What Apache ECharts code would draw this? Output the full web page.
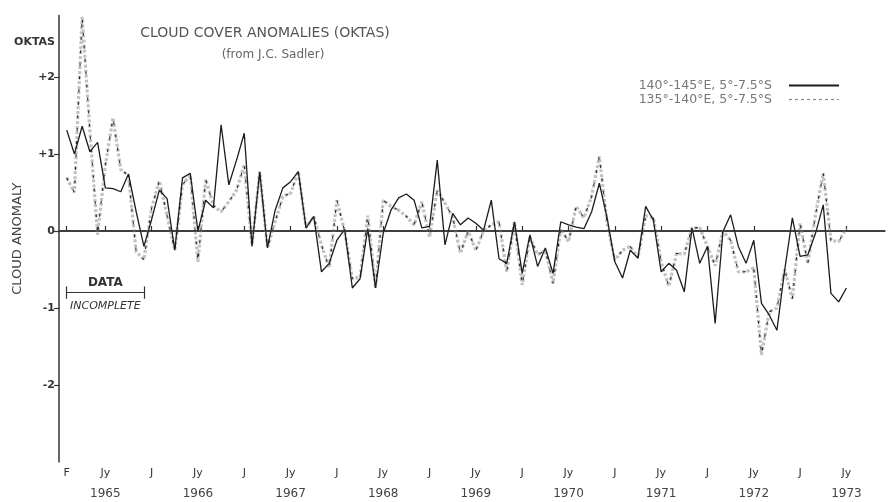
<!DOCTYPE html>
<html>
<head>
<meta charset="utf-8">
<script src="https://cdn.jsdelivr.net/npm/echarts@6/dist/echarts.min.js"></script>
<style>
  html, body { margin: 0; padding: 0; background: #fff; }
  #chart { width: 889px; height: 502px; }
</style>
</head>
<body>
<div id="chart"></div>
<script>
// Monthly cloud cover anomalies (oktas), Feb 1965 – Jul 1973
const firstYear = 1965;
const lastYear = 1973;
const seriesNames = ['140°-145°E, 5°-7.5°S', '135°-140°E, 5°-7.5°S'];

const east140 = [
  1.31, 1.00, 1.36, 1.03, 1.15, 0.56, 0.55, 0.51, 0.74, 0.25, -0.20,
  0.15, 0.53, 0.42, -0.25, 0.69, 0.75, 0.00, 0.40, 0.30, 1.38, 0.60, 0.92, 1.27, -0.20, 0.77, -0.22,
  0.27, 0.56, 0.64, 0.77, 0.04, 0.19, -0.53, -0.42, -0.12, 0.02, -0.74, -0.62, 0.03, -0.74, -0.03,
  0.27, 0.43, 0.48, 0.40, 0.04, 0.06, 0.92, -0.18, 0.23, 0.08, 0.17, 0.10, 0.01, 0.40, -0.36,
  -0.42, 0.12, -0.55, -0.05, -0.46, -0.22, -0.55, 0.12, 0.08, 0.05, 0.03, 0.25, 0.62, 0.17,
  -0.40, -0.61, -0.25, -0.35, 0.32, 0.14, -0.53, -0.42, -0.51, -0.79, 0.04, -0.42, -0.20, -1.20,
  -0.01, 0.21, -0.20, -0.42, -0.12, -0.94, -1.09, -1.29, -0.51, 0.17, -0.33, -0.31, -0.03, 0.34,
  -0.81, -0.92, -0.74
];

const east135 = [
  0.69, 0.50, 2.78, 1.30, -0.05, 0.85, 1.47, 0.80, 0.72, -0.27, -0.37,
  0.30, 0.65, 0.20, -0.25, 0.60, 0.73, -0.40, 0.67, 0.33, 0.25, 0.38, 0.53, 0.86, -0.18, 0.77, -0.22,
  0.12, 0.45, 0.49, 0.77, 0.04, 0.19, -0.18, -0.48, 0.40, 0.00, -0.62, -0.60, 0.20, -0.74, 0.40,
  0.32, 0.27, 0.19, 0.08, 0.38, -0.08, 0.53, 0.36, 0.18, -0.29, 0.00, -0.25, 0.00, 0.08, 0.12,
  -0.53, 0.12, -0.70, -0.08, -0.31, -0.25, -0.68, 0.03, -0.14, 0.32, 0.17, 0.45, 0.97, 0.10,
  -0.38, -0.25, -0.20, -0.35, 0.20, 0.17, -0.40, -0.72, -0.29, -0.30, 0.04, 0.04, -0.20, -0.45,
  0.00, -0.12, -0.53, -0.53, -0.48, -1.61, -1.05, -1.00, -0.50, -0.88, 0.10, -0.42, 0.21, 0.75,
  -0.12, -0.14, 0.04
];

const yTicks = [-2, -1, 0, 1, 2];
const monthLetters = { '01': 'J', '02': 'F', '07': 'Jy' };

// one category per month, Jan 1965 .. Dec 1973; the series start in February
const months = [];
for (let y = firstYear; y <= lastYear; y++) {
  for (let m = 1; m <= 12; m++) months.push(y + '-' + String(m).padStart(2, '0'));
}
const fromFeb = v => [null].concat(v);

function isMarked(idx) {
  if (idx === 1) return true;               // opening month of the record
  if (idx === 0) return false;
  const mm = months[idx].slice(5);
  return mm === '01' || mm === '07';
}

const font = 'DejaVu Sans';
const ink = '#2a2a2a';

const chart = echarts.init(document.getElementById('chart'), null, { renderer: 'canvas' });

chart.setOption({
  animation: false,
  backgroundColor: '#ffffff',
  textStyle: { fontFamily: font },
  grid: { left: 59, right: 4, top: 15.4, bottom: 40, containLabel: false },
  legend: {
    data: [
      { name: seriesNames[0] },
      { name: seriesNames[1], lineStyle: { color: '#888', width: 1.2, type: [3, 3] } }
    ],
    orient: 'vertical',
    align: 'right',
    right: 44,
    top: 74,
    itemGap: 1,
    itemWidth: 50,
    itemHeight: 12,
    itemStyle: { opacity: 0 },
    textStyle: { fontSize: 12.5, color: '#777', fontFamily: font, padding: [0, 12, 0, 0] }
  },
  graphic: [
    {
      type: 'text', x: 265, y: 33,
      style: {
        text: 'CLOUD COVER ANOMALIES (OKTAS)',
        align: 'center', verticalAlign: 'middle', textAlign: 'center', textVerticalAlign: 'middle',
        font: '14px "DejaVu Sans"', fill: '#555'
      }
    },
    {
      type: 'text', x: 273, y: 55,
      style: {
        text: '(from J.C. Sadler)',
        align: 'center', verticalAlign: 'middle', textAlign: 'center', textVerticalAlign: 'middle',
        font: '12px "DejaVu Sans"', fill: '#666'
      }
    },
    {
      type: 'text', x: 55, y: 42,
      style: {
        text: 'OKTAS',
        align: 'right', verticalAlign: 'middle', textAlign: 'right', textVerticalAlign: 'middle',
        font: 'bold 11px "DejaVu Sans"', fill: '#333'
      }
    }
  ],
  xAxis: {
    type: 'category',
    data: months,
    boundaryGap: false,
    axisLine: { lineStyle: { color: '#333', width: 1.5 } },
    axisTick: { inside: true, length: 5, interval: isMarked, lineStyle: { color: '#333', width: 1.2 } },
    axisLabel: {
      interval: isMarked,
      margin: 3,
      color: '#333',
      formatter: (val, idx) => {
        const yy = val.slice(0, 4), mm = val.slice(5);
        const letter = idx === 1 ? 'F' : monthLetters[mm];
        if (!letter) return '';
        return mm === '07' ? '{m|' + letter + '}\n{y|' + yy + '}' : '{m|' + letter + '}';
      },
      rich: {
        m: { fontSize: 11, lineHeight: 16, color: '#333', fontFamily: font },
        y: { fontSize: 12, lineHeight: 26, color: '#444', fontFamily: font }
      }
    },
    splitLine: { show: false }
  },
  yAxis: {
    type: 'value',
    min: -3,
    max: 2.8,
    interval: 1,
    name: 'CLOUD ANOMALY',
    nameLocation: 'middle',
    nameRotate: 90,
    nameGap: 35,
    nameTextStyle: { fontSize: 13, color: '#444', fontFamily: font },
    axisLine: { show: true, lineStyle: { color: '#333', width: 1.5 } },
    axisTick: { show: true, length: 5, customValues: yTicks, lineStyle: { color: '#333', width: 1.2 } },
    axisLabel: {
      customValues: yTicks,
      margin: 4,
      fontSize: 11,
      fontWeight: 'bold',
      color: '#333',
      formatter: v => (v > 0 ? '+' + v : String(v))
    },
    splitLine: { show: false }
  },
  series: [
    {
      // grey dotted body of the 135°-140°E trace
      name: '135-140 shade',
      type: 'line',
      data: fromFeb(east135),
      symbol: 'none',
      itemStyle: { color: '#c2c2c2' },
      lineStyle: { color: '#c2c2c2', width: 3.2, type: [3, 2] },
      z: 2
    },
    {
      name: seriesNames[1],
      type: 'line',
      data: fromFeb(east135),
      symbol: 'none',
      itemStyle: { color: ink },
      lineStyle: { color: ink, width: 1.1, type: [3, 10] },
      z: 3
    },
    {
      name: seriesNames[0],
      type: 'line',
      data: fromFeb(east140),
      symbol: 'none',
      itemStyle: { color: '#1c1c1c' },
      lineStyle: { color: '#1c1c1c', width: 1.3 },
      z: 4,
      markLine: {
        silent: true,
        symbol: 'none',
        animation: false,
        label: { show: false },
        data: [
          { yAxis: 0, lineStyle: { color: '#333', width: 1.5, type: 'solid' } },
          [
            { coord: [1, -0.8], lineStyle: { color: '#333', width: 1.2, type: 'solid' },
              label: { show: true, position: 'insideMiddleTop', distance: 4, formatter: 'DATA',
                       fontSize: 12, fontWeight: 'bold', color: '#333', fontFamily: font } },
            { coord: [11, -0.8] }
          ],
          [
            { coord: [1, -0.8], lineStyle: { color: 'rgba(0,0,0,0)', width: 1 },
              label: { show: true, position: 'insideMiddleBottom', distance: 8, formatter: 'INCOMPLETE',
                       fontSize: 11, fontStyle: 'italic', color: '#333', fontFamily: font } },
            { coord: [11, -0.8] }
          ],
          [
            { coord: [1, -0.72], lineStyle: { color: '#333', width: 1.2, type: 'solid' } },
            { coord: [1, -0.88] }
          ],
          [
            { coord: [11, -0.72], lineStyle: { color: '#333', width: 1.2, type: 'solid' } },
            { coord: [11, -0.88] }
          ]
        ]
      }
    }
  ]
});
</script>
</body>
</html>
